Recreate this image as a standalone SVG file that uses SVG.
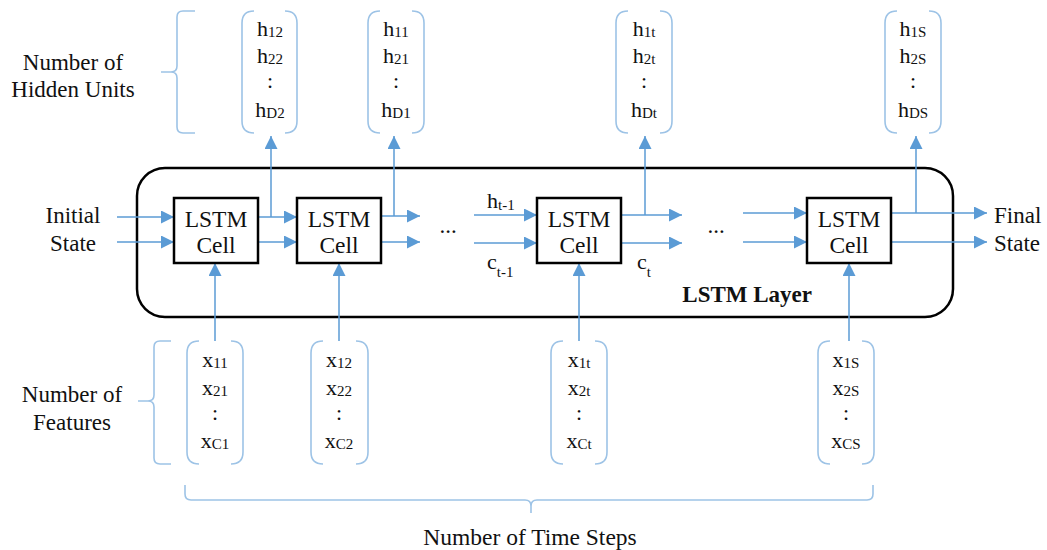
<svg xmlns="http://www.w3.org/2000/svg" width="1047" height="550" viewBox="0 0 1047 550" font-family="'Liberation Serif', 'DejaVu Serif', serif">
<style>
  text { font-family: 'Liberation Serif', 'DejaVu Serif', serif; fill: #111; }
  .lbl { font-size: 23px; }
  .cell-t { font-size: 23.5px; text-anchor: middle; }
  .col { font-size: 22px; text-anchor: middle; }
  .sub { font-size: 15px; }
  .cellbox { fill: #fff; stroke: #000; stroke-width: 2.5; }
  .layer { fill: none; stroke: #000; stroke-width: 2.5; }
  .arrow { fill: none; stroke: #5B9BD5; stroke-width: 1.5; marker-end: url(#ah); }
  .brk { fill: none; stroke: #9DC3E6; stroke-width: 1.6; }
</style>
<defs>
  <marker id="ah" markerUnits="userSpaceOnUse" markerWidth="14" markerHeight="13" refX="13" refY="6.5" orient="auto">
    <path d="M0,0 L13,6.5 L0,13 z" fill="#5B9BD5"/>
  </marker>
</defs>
<rect width="1047" height="550" fill="#fff"/>

<g id="lstm-layer">
  <rect class="layer" x="137" y="168" width="816" height="149" rx="28" ry="28"/>
  <text x="812" y="302" style="font-size:23px;font-weight:bold;text-anchor:end">LSTM Layer</text>
</g>

<g id="connectors">
  <line class="arrow" x1="117" y1="217" x2="174" y2="217"/>
  <line class="arrow" x1="117" y1="242" x2="174" y2="242"/>
  <line class="arrow" x1="258" y1="217" x2="297" y2="217"/>
  <line class="arrow" x1="258" y1="242" x2="297" y2="242"/>
  <line class="arrow" x1="271" y1="217" x2="271" y2="136"/>
  <line class="arrow" x1="381" y1="216" x2="420" y2="216"/>
  <line class="arrow" x1="381" y1="242" x2="420" y2="242"/>
  <line class="arrow" x1="394" y1="216" x2="394" y2="136"/>
  <line class="arrow" x1="474" y1="215" x2="537" y2="215"/>
  <line class="arrow" x1="474" y1="243" x2="537" y2="243"/>
  <line class="arrow" x1="621" y1="215" x2="682" y2="215"/>
  <line class="arrow" x1="621" y1="243" x2="682" y2="243"/>
  <line class="arrow" x1="645" y1="215" x2="645" y2="136"/>
  <line class="arrow" x1="743" y1="213" x2="807" y2="213"/>
  <line class="arrow" x1="743" y1="242" x2="807" y2="242"/>
  <line class="arrow" x1="890" y1="213" x2="987" y2="213"/>
  <line class="arrow" x1="890" y1="242" x2="987" y2="242"/>
  <line class="arrow" x1="916" y1="213" x2="916" y2="136"/>
  <line class="arrow" x1="215" y1="341" x2="215" y2="263"/>
  <line class="arrow" x1="339" y1="341" x2="339" y2="263"/>
  <line class="arrow" x1="579" y1="341" x2="579" y2="263"/>
  <line class="arrow" x1="849" y1="341" x2="849" y2="263"/>
</g>

<g id="cell-1">
  <rect class="cellbox" x="174" y="198" width="84" height="65"/>
  <text class="cell-t" x="216" y="227">LSTM</text>
  <text class="cell-t" x="216" y="253">Cell</text>
</g>
<g id="cell-2">
  <rect class="cellbox" x="297" y="198" width="84" height="65"/>
  <text class="cell-t" x="339" y="227">LSTM</text>
  <text class="cell-t" x="339" y="253">Cell</text>
</g>
<g id="cell-t">
  <rect class="cellbox" x="537" y="198" width="84" height="65"/>
  <text class="cell-t" x="579" y="227">LSTM</text>
  <text class="cell-t" x="579" y="253">Cell</text>
</g>
<g id="cell-S">
  <rect class="cellbox" x="807" y="198" width="84" height="65"/>
  <text class="cell-t" x="849" y="227">LSTM</text>
  <text class="cell-t" x="849" y="253">Cell</text>
</g>

<g id="initial-state">
  <text class="lbl" x="73" y="223" text-anchor="middle">Initial</text>
  <text class="lbl" x="73" y="251" text-anchor="middle">State</text>
</g>
<g id="final-state">
  <text class="lbl" x="994" y="223">Final</text>
  <text class="lbl" x="994" y="251">State</text>
</g>
<g id="ellipses">
  <text class="lbl" x="448" y="233" text-anchor="middle">...</text>
  <text class="lbl" x="716" y="233" text-anchor="middle">...</text>
</g>
<g id="state-labels">
  <text x="487" y="208" style="font-size:22px">h<tspan class="sub" dy="2">t-1</tspan></text>
  <text x="487" y="269" style="font-size:22px">c<tspan class="sub" dy="8">t-1</tspan></text>
  <text x="637" y="269" style="font-size:22px">c<tspan class="sub" dy="8">t</tspan></text>
</g>

<g id="h-col-2">
  <path class="brk" d="M254,11 Q242,11 242,23 L242,121 Q242,133 254,133 M285,11 Q297,11 297,23 L297,121 Q297,133 285,133"/>
  <text class="col" x="270" y="36">h<tspan class="sub" dy="1">12</tspan></text>
  <text class="col" x="270" y="63">h<tspan class="sub" dy="1">22</tspan></text>
  <text class="col" x="270" y="88">:</text>
  <text class="col" x="270" y="117">h<tspan class="sub" dy="1">D2</tspan></text>
</g>
<g id="h-col-1">
  <path class="brk" d="M380,11 Q368,11 368,23 L368,121 Q368,133 380,133 M412,11 Q424,11 424,23 L424,121 Q424,133 412,133"/>
  <text class="col" x="396" y="36">h<tspan class="sub" dy="1">11</tspan></text>
  <text class="col" x="396" y="63">h<tspan class="sub" dy="1">21</tspan></text>
  <text class="col" x="396" y="88">:</text>
  <text class="col" x="396" y="117">h<tspan class="sub" dy="1">D1</tspan></text>
</g>
<g id="h-col-t">
  <path class="brk" d="M628,11 Q616,11 616,23 L616,121 Q616,133 628,133 M660,11 Q672,11 672,23 L672,121 Q672,133 660,133"/>
  <text class="col" x="644" y="36">h<tspan class="sub" dy="1">1t</tspan></text>
  <text class="col" x="644" y="63">h<tspan class="sub" dy="1">2t</tspan></text>
  <text class="col" x="644" y="88">:</text>
  <text class="col" x="644" y="117">h<tspan class="sub" dy="1">Dt</tspan></text>
</g>
<g id="h-col-S">
  <path class="brk" d="M897,11 Q885,11 885,23 L885,121 Q885,133 897,133 M929,11 Q941,11 941,23 L941,121 Q941,133 929,133"/>
  <text class="col" x="913" y="36">h<tspan class="sub" dy="1">1S</tspan></text>
  <text class="col" x="913" y="63">h<tspan class="sub" dy="1">2S</tspan></text>
  <text class="col" x="913" y="88">:</text>
  <text class="col" x="913" y="117">h<tspan class="sub" dy="1">DS</tspan></text>
</g>

<g id="x-col-1">
  <path class="brk" d="M199,341 Q187,341 187,353 L187,452 Q187,464 199,464 M231,341 Q243,341 243,353 L243,452 Q243,464 231,464"/>
  <text class="col" x="215" y="367">x<tspan class="sub" dy="1">11</tspan></text>
  <text class="col" x="215" y="395">x<tspan class="sub" dy="1">21</tspan></text>
  <text class="col" x="215" y="420">:</text>
  <text class="col" x="215" y="448">x<tspan class="sub" dy="1">C1</tspan></text>
</g>
<g id="x-col-2">
  <path class="brk" d="M323,341 Q311,341 311,353 L311,452 Q311,464 323,464 M356,341 Q368,341 368,353 L368,452 Q368,464 356,464"/>
  <text class="col" x="339" y="367">x<tspan class="sub" dy="1">12</tspan></text>
  <text class="col" x="339" y="395">x<tspan class="sub" dy="1">22</tspan></text>
  <text class="col" x="339" y="420">:</text>
  <text class="col" x="339" y="448">x<tspan class="sub" dy="1">C2</tspan></text>
</g>
<g id="x-col-t">
  <path class="brk" d="M563,341 Q551,341 551,353 L551,452 Q551,464 563,464 M595,341 Q607,341 607,353 L607,452 Q607,464 595,464"/>
  <text class="col" x="579" y="367">x<tspan class="sub" dy="1">1t</tspan></text>
  <text class="col" x="579" y="395">x<tspan class="sub" dy="1">2t</tspan></text>
  <text class="col" x="579" y="420">:</text>
  <text class="col" x="579" y="448">x<tspan class="sub" dy="1">Ct</tspan></text>
</g>
<g id="x-col-S">
  <path class="brk" d="M830,341 Q818,341 818,353 L818,452 Q818,464 830,464 M862,341 Q874,341 874,353 L874,452 Q874,464 862,464"/>
  <text class="col" x="846" y="367">x<tspan class="sub" dy="1">1S</tspan></text>
  <text class="col" x="846" y="395">x<tspan class="sub" dy="1">2S</tspan></text>
  <text class="col" x="846" y="420">:</text>
  <text class="col" x="846" y="448">x<tspan class="sub" dy="1">CS</tspan></text>
</g>

<g id="hidden-units-brace">
  <path class="brk" d="M195,11 L183,11 Q177,11 177,17 L177,66 Q177,72 171,72 L161,72 M171,72 Q177,72 177,78 L177,127 Q177,133 183,133 L195,133"/>
  <text class="lbl" x="73" y="70" text-anchor="middle">Number of</text>
  <text class="lbl" x="73" y="97" text-anchor="middle">Hidden Units</text>
</g>
<g id="features-brace">
  <path class="brk" d="M171,341 L160,341 Q154,341 154,347 L154,395 Q154,401 148,401 L138,401 M148,401 Q154,401 154,407 L154,458 Q154,464 160,464 L171,464"/>
  <text class="lbl" x="72" y="402" text-anchor="middle">Number of</text>
  <text class="lbl" x="72" y="430" text-anchor="middle">Features</text>
</g>
<g id="time-steps-brace">
  <path class="brk" d="M185,485 L185,494 Q185,500 191,500 L525,500 Q531,500 531,506 L531,513 M531,506 Q531,500 537,500 L867,500 Q873,500 873,494 L873,485"/>
  <text x="530" y="545" style="font-size:23.5px;text-anchor:middle">Number of Time Steps</text>
</g>
</svg>
